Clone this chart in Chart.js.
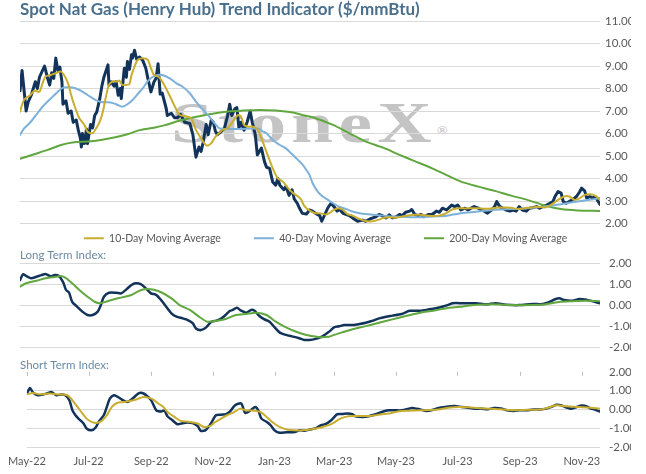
<!DOCTYPE html>
<html>
<head>
<meta charset="utf-8">
<script src="https://cdn.jsdelivr.net/npm/chart.js@4.4.0/dist/chart.umd.min.js"></script>
<style>
  html, body { margin: 0; padding: 0; background: #fff; }
  #wrap { position: relative; width: 646px; height: 474px; overflow: hidden; }
  .panel { position: absolute; left: 0; width: 646px; }
  #mark {
    position: absolute; left: 171px; top: 94px; z-index: 0;
    font: bold 57px "Liberation Serif", serif; line-height: 57px;
    letter-spacing: 4px; color: #c4c4c4; white-space: nowrap;
    transform-origin: left top; transform: scaleX(1.32);
  }
  #mark sup { font-size: 11px; vertical-align: top; position: relative; top: 8px; letter-spacing: 0; }
  canvas { position: relative; z-index: 1; }
</style>
</head>
<body>
<div id="wrap">
  <div id="mark">StoneX<sup>®</sup></div>
  <div class="panel" style="top:0;height:277px"><canvas id="priceChart"></canvas></div>
  <div class="panel" style="top:240px;height:124px"><canvas id="longChart"></canvas></div>
  <div class="panel" style="top:350px;height:127px"><canvas id="shortChart"></canvas></div>
</div>
<script>
// x values are days counted from 1 May 2022
const monthDays = [0, 61, 123, 184, 245, 304, 365, 426, 488, 549];
const monthLabels = ["May-22", "Jul-22", "Sep-22", "Nov-22", "Jan-23", "Mar-23", "May-23", "Jul-23", "Sep-23", "Nov-23"];

// spot price
const priceDays = [0,2,6,8,11,15,17,19,24,27,29,31,33,35,37,39,41,42,45,47,50,52,55,57,59,60,61,63,65,66,69,71,73,75,78,80,82,86,87,89,92,94,96,98,99,102,104,105,107,109,110,112,114,117,120,123,125,128,131,133,135,137,139,143,144,148,151,154,157,161,166,169,172,175,177,179,182,184,187,189,191,193,197,200,203,205,207,210,212,214,216,219,222,225,227,230,232,236,239,241,244,247,250,252,254,258,260,263,266,268,271,273,276,280,283,286,289,293,295,298,301,304,307,310,312,316,319,322,325,330,335,338,342,345,348,351,354,358,361,364,368,371,374,377,381,383,386,389,392,395,399,403,407,410,413,417,422,425,428,431,435,438,441,444,448,451,454,457,461,464,466,469,472,475,479,482,485,488,491,495,498,501,505,508,511,514,518,521,523,526,529,531,534,537,540,544,547,549,552,554,557,560,562,565,567];
const priceVals = [7.9,8.8,7.0,7.4,7.7,8.3,8.0,8.5,9.0,8.45,8.15,8.7,8.45,9.35,8.8,8.95,8.3,7.3,7.45,6.9,7.0,6.5,6.6,6.15,5.8,5.4,6.0,5.55,6.2,5.55,6.4,6.25,6.8,6.95,7.55,8.1,8.5,9.05,8.15,8.3,8.1,8.3,7.7,8.0,7.55,8.9,8.5,9.2,8.85,9.5,9.35,9.7,9.3,9.4,9.25,8.9,8.45,7.85,8.3,8.45,9.1,7.75,7.8,7.1,6.8,6.9,6.7,6.7,6.85,6.5,6.45,5.95,4.95,5.4,5.2,5.6,6.4,5.95,6.6,6.5,6.1,5.95,6.1,6.25,6.8,7.3,6.8,7.1,7.15,6.25,6.5,6.15,6.5,7.0,6.5,5.95,5.05,5.35,4.75,4.5,4.45,3.85,3.7,4.0,3.7,3.5,3.65,3.25,3.5,3.1,2.9,2.7,2.45,2.42,2.6,2.55,2.45,2.35,2.1,2.4,2.7,2.9,2.75,2.55,2.65,2.45,2.4,2.35,2.25,2.1,2.15,2.1,2.2,2.25,2.3,2.4,2.35,2.25,2.38,2.25,2.3,2.4,2.35,2.5,2.55,2.62,2.4,2.35,2.4,2.3,2.4,2.4,2.55,2.5,2.68,2.6,2.82,2.75,2.82,2.6,2.68,2.6,2.68,2.75,2.68,2.6,2.55,2.46,2.6,2.75,2.98,2.75,2.68,2.6,2.55,2.6,2.55,2.75,2.6,2.55,2.68,2.7,2.75,2.68,2.75,2.8,2.9,2.98,3.2,3.42,3.35,2.98,2.9,2.98,3.05,3.2,3.4,3.57,3.45,3.13,3.2,3.13,3.2,3.0,2.85];

// 10-day moving average
const ma10Days = [0,4,10,14,19,22,25,30,35,40,43,47,50,53,58,63,66,71,74,78,81,84,87,91,94,97,100,104,107,109,112,115,120,125,128,131,136,141,146,149,153,156,161,166,169,172,177,180,183,187,190,193,198,203,208,213,216,219,223,227,232,236,239,242,247,252,257,262,267,272,275,277,280,285,289,294,299,302,306,311,316,320,325,330,337,343,350,355,361,368,374,381,386,391,399,405,410,417,422,428,435,441,448,454,461,467,474,480,487,493,500,506,513,519,526,532,537,542,547,552,558,563,567];
const ma10Vals = [6.97,7.5,7.7,7.9,7.86,8.23,8.53,8.6,8.68,8.75,8.6,8.23,7.71,7.27,6.68,6.38,6.08,6.01,6.2,6.53,6.97,7.64,8.16,8.33,8.3,8.35,8.16,8.16,8.2,8.6,8.97,9.27,9.34,9.27,8.9,8.6,8.5,8.16,7.71,7.42,7.05,6.82,6.78,6.72,6.53,6.16,5.79,5.57,5.46,5.57,5.79,5.95,6.16,6.23,6.53,6.82,6.75,6.38,6.3,6.31,6.2,5.79,5.42,5.05,4.46,4.01,3.86,3.57,3.35,3.2,3.05,2.85,2.68,2.53,2.46,2.45,2.4,2.45,2.58,2.68,2.6,2.42,2.35,2.24,2.12,2.09,2.16,2.24,2.28,2.26,2.31,2.37,2.39,2.39,2.35,2.33,2.35,2.46,2.61,2.68,2.67,2.68,2.68,2.66,2.67,2.71,2.71,2.7,2.64,2.68,2.71,2.75,2.71,2.83,3.05,3.2,3.2,3.05,3.12,3.27,3.3,3.22,3.05];

// 40-day moving average
const ma40Days = [0,4,8,12,17,22,27,32,37,42,47,51,56,61,66,71,76,81,86,91,95,100,105,110,115,120,125,130,135,139,146,153,159,166,172,179,185,190,195,201,215,227,234,237,241,247,254,260,265,270,275,280,283,286,291,296,301,306,312,319,325,332,338,345,355,364,374,384,394,404,415,420,431,448,464,480,496,513,529,545,562,567];
const ma40Vals = [5.94,6.23,6.4,6.6,6.9,7.19,7.42,7.64,7.86,8.04,8.06,8.04,7.98,7.86,7.71,7.57,7.45,7.39,7.39,7.35,7.28,7.19,7.3,7.49,7.75,8.01,8.33,8.53,8.6,8.6,8.46,8.23,8.08,7.79,7.42,7.05,6.75,6.46,6.23,6.2,6.2,6.22,6.2,6.1,6.01,5.71,5.49,5.34,5.12,4.9,4.68,4.38,4.16,3.8,3.42,3.2,3.05,2.9,2.75,2.64,2.53,2.46,2.42,2.39,2.35,2.31,2.3,2.28,2.28,2.31,2.33,2.37,2.46,2.53,2.61,2.64,2.68,2.75,2.86,2.98,3.09,3.13];

// 200-day moving average
const ma200Days = [0,14,27,40,53,66,79,92,105,118,131,141,153,169,185,201,218,234,250,267,278,289,306,322,338,355,371,387,404,417,431,448,464,480,496,513,529,545,567];
const ma200Vals = [4.87,5.08,5.27,5.49,5.61,5.64,5.71,5.82,5.97,6.16,6.26,6.36,6.53,6.71,6.86,6.97,7.02,7.05,7.02,6.93,6.8,6.68,6.38,6.01,5.64,5.37,5.05,4.75,4.43,4.15,3.86,3.64,3.45,3.24,3.05,2.8,2.64,2.58,2.56];

// long term index and its average
const longDays = [0,3,6,11,16,21,25,30,34,38,42,45,48,51,56,61,66,71,76,79,82,87,94,99,104,109,113,118,123,128,133,138,143,148,153,159,164,169,172,177,182,187,192,197,201,205,208,212,216,221,226,229,234,239,244,249,254,260,267,273,278,283,289,294,298,301,304,307,312,317,325,332,338,345,351,358,364,373,381,391,400,410,418,423,433,446,456,465,475,488,501,511,518,523,528,532,540,547,554,560,565,567];
const longVals = [1.2,1.48,1.4,1.29,1.36,1.44,1.49,1.38,1.44,1.4,1.12,0.73,0.6,0.17,-0.07,-0.3,-0.46,-0.46,-0.3,0.01,0.41,0.6,0.6,0.57,0.76,0.97,1.05,1.01,0.81,0.57,0.5,0.25,-0.07,-0.38,-0.54,-0.62,-0.7,-0.86,-1.1,-1.18,-1.05,-0.78,-0.73,-0.62,-0.46,-0.27,-0.22,-0.11,-0.25,-0.35,-0.22,-0.25,-0.51,-0.67,-0.78,-1.05,-1.3,-1.41,-1.49,-1.57,-1.65,-1.65,-1.6,-1.52,-1.4,-1.3,-1.18,-1.05,-1.0,-0.94,-0.94,-0.89,-0.83,-0.73,-0.62,-0.54,-0.49,-0.41,-0.26,-0.26,-0.19,-0.1,0.01,0.1,0.1,0.1,0.05,0.1,0.03,0.01,0.06,0.06,0.17,0.29,0.33,0.25,0.22,0.3,0.26,0.19,0.12,0.1];
const longAvgDays = [0,6,16,25,35,40,45,51,58,66,73,78,84,92,100,109,117,123,131,139,148,156,166,175,183,192,201,211,221,231,241,250,260,270,280,289,293,302,307,317,325,338,351,364,377,391,404,417,430,443,462,482,501,514,528,540,554,567];
const longAvgVals = [0.89,1.05,1.17,1.29,1.36,1.4,1.3,1.05,0.73,0.41,0.17,0.1,0.17,0.29,0.38,0.49,0.7,0.78,0.74,0.6,0.33,0.01,-0.22,-0.54,-0.78,-0.74,-0.65,-0.46,-0.41,-0.35,-0.46,-0.78,-1.05,-1.26,-1.41,-1.49,-1.52,-1.5,-1.41,-1.26,-1.14,-0.99,-0.83,-0.67,-0.51,-0.35,-0.26,-0.14,-0.07,0.01,0.05,0.01,0.01,0.05,0.17,0.2,0.22,0.2];

// short term index and its average
const shortDays = [0,3,6,11,16,21,24,29,34,38,42,45,48,51,56,59,64,68,71,76,79,82,86,89,94,99,102,106,110,114,118,123,128,133,136,139,144,149,154,159,164,169,172,177,182,187,192,197,201,206,212,216,221,226,229,232,237,241,245,249,257,265,270,275,280,286,291,296,301,304,307,312,317,322,325,332,338,345,351,358,364,371,381,386,391,395,400,405,410,417,423,430,436,443,450,456,462,469,475,482,488,494,501,508,514,519,524,529,534,539,544,549,554,557,561,565,567];
const shortVals = [0.85,1.14,0.9,0.76,0.8,0.88,0.93,0.76,0.8,0.76,0.49,-0.04,-0.3,-0.48,-0.74,-1.0,-1.1,-0.95,-0.65,-0.3,0.14,0.58,0.76,0.7,0.53,0.4,0.48,0.65,0.85,0.88,0.76,0.49,-0.04,-0.1,-0.05,-0.35,-0.57,-0.78,-0.72,-0.69,-0.72,-0.88,-1.13,-1.08,-0.74,-0.3,-0.27,-0.25,-0.1,0.23,0.32,-0.18,-0.05,0.14,-0.05,-0.48,-0.65,-0.83,-1.1,-1.22,-1.2,-1.19,-1.1,-1.12,-1.06,-0.98,-0.83,-0.76,-0.57,-0.4,-0.25,-0.24,-0.21,-0.24,-0.35,-0.39,-0.35,-0.25,-0.13,-0.04,-0.04,-0.04,0.08,0.04,-0.02,-0.07,-0.04,0.05,0.11,0.17,0.19,0.14,0.1,0.05,0.05,0.02,0.08,0.06,-0.04,-0.07,-0.04,-0.04,0.0,0.0,0.05,0.14,0.26,0.22,0.11,0.05,0.14,0.21,0.17,0.07,0.02,-0.07,-0.1];
const shortAvgDays = [0,6,12,22,32,40,45,50,55,59,64,69,74,79,84,89,96,102,109,115,121,125,130,135,139,146,152,160,169,175,182,185,192,198,205,211,217,223,231,237,244,250,257,264,273,282,291,297,300,305,310,318,328,339,348,358,368,378,390,407,417,427,437,446,459,469,482,495,508,518,524,534,544,554,567];
const shortAvgVals = [0.81,0.88,0.81,0.85,0.8,0.76,0.49,0.14,-0.21,-0.48,-0.65,-0.71,-0.6,-0.3,0.14,0.35,0.4,0.46,0.55,0.67,0.62,0.53,0.32,0.14,-0.13,-0.39,-0.6,-0.65,-0.74,-0.92,-0.85,-0.71,-0.48,-0.3,-0.13,0.05,-0.05,-0.05,-0.13,-0.39,-0.71,-0.92,-1.06,-1.1,-1.1,-1.04,-0.95,-0.85,-0.8,-0.65,-0.48,-0.35,-0.34,-0.34,-0.27,-0.21,-0.09,-0.06,-0.04,0.0,0.1,0.14,0.12,0.08,0.04,0.02,-0.04,-0.01,0.0,0.14,0.23,0.17,0.14,0.11,0.05];

const NAVY = "#12335a", GOLD = "#c8ad2f", BLUE = "#7db1da", GREEN = "#60a73e";
const GRID = "#d9d9d9", LABEL = "#595959";

const pts = (days, vals) => days.map((d, i) => ({ x: d, y: vals[i] }));

function line(label, days, vals, color, width, order) {
  return {
    label: label, data: pts(days, vals), borderColor: color, backgroundColor: color,
    borderWidth: width, pointRadius: 0, tension: 0.25, order: order,
    borderJoinStyle: "round", borderCapStyle: "round"
  };
}

function xAxis(show) {
  return {
    type: "linear", min: 0, max: 567, display: show,
    afterBuildTicks: axis => { axis.ticks = monthDays.map(v => ({ value: v })); },
    ticks: {
      autoSkip: false, maxRotation: 0, padding: 8, color: LABEL,
      font: { family: "Lato", size: 11 },
      callback: v => monthLabels[monthDays.indexOf(v)]
    },
    grid: { display: false, drawTicks: false },
    border: { display: false }
  };
}

function yAxis(min, max, pad, hideTop) {
  return {
    position: "right", min: min, max: max,
    afterFit: s => { s.width = 31; },
    ticks: {
      stepSize: 1, padding: pad, color: LABEL,
      font: { family: "Lato", size: 11.5 },
      callback: v => v.toFixed(2)
    },
    grid: {
      drawTicks: false, lineWidth: 1,
      color: c => (hideTop && c.tick && c.tick.value === max) ? "rgba(0,0,0,0)" : GRID
    },
    border: { display: false }
  };
}

function panelTitle(text, padTop, padBottom) {
  return {
    display: true, text: text, align: "start", color: "#6b8aa5",
    font: { family: "Lato", size: 11.5, weight: "normal", lineHeight: 1.1 },
    padding: { top: padTop, bottom: padBottom }
  };
}

Chart.defaults.animation = false;
Chart.defaults.font.family = "Lato";

// the legend sits close under the plot; labels.padding also spaces the items apart
const liftLegend = {
  id: "liftLegend",
  afterLayout(chart) { chart.legend.top -= 23.5; chart.legend.bottom -= 23.5; }
};

new Chart(document.getElementById("priceChart"), {
  type: "line",
  data: {
    datasets: [
      line("10-Day Moving Average", ma10Days, ma10Vals, GOLD, 2, 1),
      line("40-Day Moving Average", ma40Days, ma40Vals, BLUE, 2, 2),
      line("200-Day Moving Average", ma200Days, ma200Vals, GREEN, 2, 3),
      Object.assign(line("Spot Price", priceDays, priceVals, NAVY, 3, 4), { tension: 0 })
    ]
  },
  options: {
    responsive: true, maintainAspectRatio: false,
    layout: { padding: { left: 20, right: 15, top: 0, bottom: 0 } },
    scales: { x: xAxis(false), y: yAxis(2, 11, 5, false) },
    plugins: {
      title: {
        display: true, text: "Spot Nat Gas (Henry Hub) Trend Indicator ($/mmBtu)",
        align: "start", color: "#4a6f8c",
        font: { family: "Lato", size: 17, weight: "bold", lineHeight: 1.1 },
        padding: { top: 0, bottom: 2.3 }
      },
      legend: {
        position: "bottom",
        labels: {
          usePointStyle: true, pointStyle: "line", pointStyleWidth: 20,
          padding: 33, color: LABEL, font: { family: "Lato", size: 10.5 },
          filter: item => item.text !== "Spot Price"
        }
      },
      tooltip: { enabled: false }
    }
  },
  plugins: [liftLegend]
});

new Chart(document.getElementById("longChart"), {
  type: "line",
  data: {
    datasets: [
      line("Long Term Average", longAvgDays, longAvgVals, GREEN, 2, 1),
      line("Long Term Index", longDays, longVals, NAVY, 2.5, 2)
    ]
  },
  options: {
    responsive: true, maintainAspectRatio: false,
    layout: { padding: { left: 20, right: 15, top: 0, bottom: 16.7 } },
    scales: { x: xAxis(false), y: yAxis(-2, 2, 9, false) },
    plugins: {
      title: panelTitle("Long Term Index:", 9.2, 1.5),
      legend: { display: false },
      tooltip: { enabled: false }
    }
  }
});

// small x tick marks hanging from the top edge of the lowest panel
const topTicks = {
  id: "topTicks",
  afterDraw(chart) {
    const { ctx, chartArea, scales } = chart;
    ctx.save();
    ctx.strokeStyle = "#bfbfbf";
    ctx.lineWidth = 1;
    monthDays.forEach(d => {
      const px = Math.round(scales.x.getPixelForValue(d)) + 0.5;
      ctx.beginPath();
      ctx.moveTo(px, chartArea.top);
      ctx.lineTo(px, chartArea.top + 4);
      ctx.stroke();
    });
    ctx.restore();
  }
};

new Chart(document.getElementById("shortChart"), {
  type: "line",
  data: {
    datasets: [
      line("Short Term Average", shortAvgDays, shortAvgVals, GOLD, 2, 1),
      line("Short Term Index", shortDays, shortVals, NAVY, 2.5, 2)
    ]
  },
  options: {
    responsive: true, maintainAspectRatio: false,
    layout: { padding: { left: 20, right: 15, top: 0, bottom: 0.5 } },
    scales: { x: xAxis(true), y: yAxis(-2, 2, 9, true) },
    plugins: {
      title: panelTitle("Short Term Index:", 9.2, 0),
      legend: { display: false },
      tooltip: { enabled: false }
    }
  },
  plugins: [topTicks]
});
</script>
</body>
</html>
